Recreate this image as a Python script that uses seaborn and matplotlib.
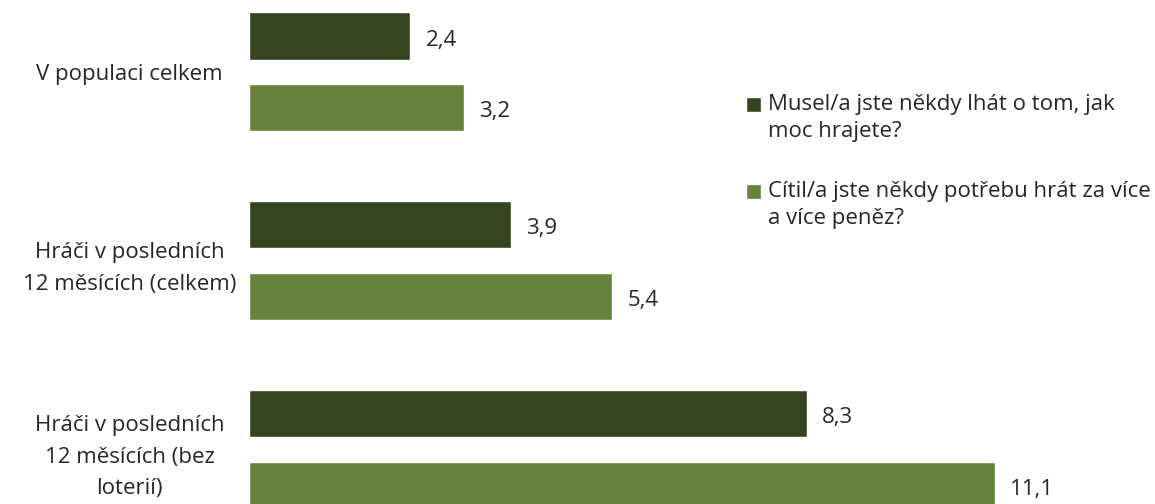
import pandas as pd
import seaborn as sns
import matplotlib.pyplot as plt
from matplotlib.patches import Rectangle
from matplotlib.legend_handler import HandlerPatch

# chart values
groups = ["V populaci celkem",
          "Hráči v posledních\n12 měsících (celkem)",
          "Hráči v posledních\n12 měsících (bez\nloterií)"]
series = ["Musel/a jste někdy lhát o tom, jak\nmoc hrajete?",
          "Cítil/a jste někdy potřebu hrát za více\na více peněz?"]
lied = [2.4, 3.9, 8.3]
more_money = [3.2, 5.4, 11.1]
colors = ["#344420", "#66823c"]

df = pd.DataFrame({
    "group": groups * 2,
    "series": [series[0]] * 3 + [series[1]] * 3,
    "value": lied + more_money,
})

sns.set_style("white")
plt.rcParams['font.family'] = ['Open Sans', 'DejaVu Sans']
plt.rcParams['font.size'] = 16

fig = plt.figure(figsize=(11.55, 5.04), dpi=100)
ax = fig.add_axes([249 / 1155, 0, 906 / 1155, 1])

sns.barplot(data=df, y="group", x="value", hue="series", orient="h",
            palette=colors, width=0.76, gap=0.34, ax=ax, saturation=1)

# value labels with decimal comma, sitting a bit below the bar centre
for cont, vals in zip(ax.containers, [lied, more_money]):
    anns = ax.bar_label(cont, labels=[f"{v:.1f}".replace(".", ",") for v in vals],
                        padding=11, color="#262626", clip_on=False)
    for a in anns:
        a.xyann = (a.xyann[0], -3)

ax.set_xlim(0, 13.48)
ax.set_ylim(2.289, -0.381)
ax.set_xlabel("")
ax.set_ylabel("")
ax.set_xticks([])
sns.despine(ax=ax, left=True, bottom=True)
ax.tick_params(axis="y", length=0, pad=86)
for lab in ax.get_yticklabels():
    lab.set_ha("center")
    lab.set_multialignment("center")
    lab.set_linespacing(1.65)
    lab.set_color("#262626")


# legend square drawn next to the first line of a two-line label
def top_square(legend, orig_handle, xdescent, ydescent, width, height, fontsize):
    return Rectangle((-xdescent, -ydescent + 0.62 * fontsize), width, height)


handles, labels = ax.get_legend_handles_labels()
ax.get_legend().remove()
leg = fig.legend(handles, labels, loc="upper left",
                 bbox_to_anchor=(726 / 1155, 1 - 74 / 504), frameon=False,
                 handlelength=0.68, handleheight=0.68, handletextpad=0.3,
                 labelspacing=1.75, fontsize=16,
                 handler_map={Rectangle: HandlerPatch(patch_func=top_square)})
for t in leg.get_texts():
    t.set_color("#262626")
    t.set_linespacing(1.38)

fig.savefig("out.png", dpi=100)
